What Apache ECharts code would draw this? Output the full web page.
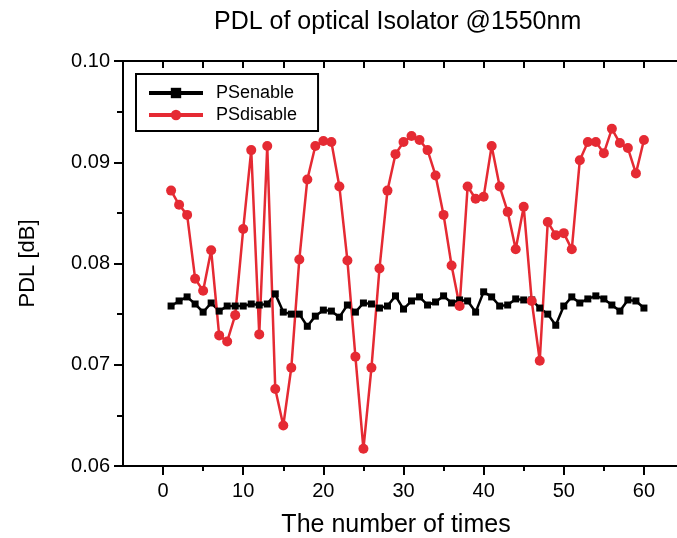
<!DOCTYPE html>
<html>
<head>
<meta charset="utf-8">
<script src="https://cdn.jsdelivr.net/npm/echarts@6/dist/echarts.min.js"></script>
<style>html,body{margin:0;padding:0;background:#fff;overflow:hidden;width:677px;height:538px}
#wrap{position:relative;width:677px;height:538px;overflow:hidden}
#c{position:absolute;left:0;top:0;width:690px;height:538px}</style>
</head>
<body>
<div id="wrap"><div id="c"></div></div>
<script>
const times = Array.from({length: 60}, (_, i) => i + 1);
const psEnable = [0.0758,0.0763,0.0767,0.0760,0.0752,0.0761,0.0753,0.0758,0.0758,0.0758,
  0.0760,0.0759,0.0760,0.0770,0.0752,0.0750,0.0750,0.0738,0.0748,0.0754,
  0.0753,0.0747,0.0759,0.0752,0.0761,0.0760,0.0756,0.0758,0.0768,0.0755,
  0.0763,0.0767,0.0759,0.0762,0.0768,0.0761,0.0764,0.0763,0.0752,0.0772,
  0.0767,0.0758,0.0759,0.0765,0.0764,0.0764,0.0756,0.0750,0.0739,0.0758,
  0.0767,0.0761,0.0765,0.0768,0.0765,0.0759,0.0753,0.0764,0.0763,0.0756];
const psDisable = [0.0872,0.0858,0.0848,0.0785,0.0773,0.0813,0.0729,0.0723,0.0749,0.0834,
  0.0912,0.0730,0.0916,0.0676,0.0640,0.0697,0.0804,0.0883,0.0916,0.0921,
  0.0920,0.0876,0.0803,0.0708,0.0617,0.0697,0.0795,0.0872,0.0908,0.0920,
  0.0926,0.0922,0.0912,0.0887,0.0848,0.0798,0.0758,0.0876,0.0864,0.0866,
  0.0916,0.0876,0.0851,0.0814,0.0856,0.0763,0.0704,0.0841,0.0828,0.0830,
  0.0814,0.0902,0.0920,0.0920,0.0909,0.0933,0.0919,0.0914,0.0889,0.0922];
const xMajor = [0,10,20,30,40,50,60];
const xMinor = [5,15,25,35,45,55];
const xTop = [0,5,10,15,20,25,30,35,40,45,50,55,60];

const FONT = '"Liberation Sans", Arial, Helvetica, sans-serif';
const red = '#e52a33';
const pair = (ys) => times.map((t, i) => [t, ys[i]]);

const chart = echarts.init(document.getElementById('c'), null, {renderer: 'canvas'});
chart.setOption({
  animation: false,
  backgroundColor: '#fff',
  title: {
    text: 'PDL of optical Isolator @1550nm',
    left: 209, top: 5,
    textStyle: {fontFamily: FONT, fontSize: 25, fontWeight: 'normal', color: '#000'}
  },
  legend: {
    orient: 'vertical', left: 136, top: 74,
    padding: [10, 21, 7, 11],
    borderColor: '#000', borderWidth: 2,
    itemWidth: 54, itemHeight: 13, itemGap: 4,
    lineStyle: {width: 4},
    textStyle: {fontFamily: FONT, fontSize: 18, color: '#000', padding: [0, 0, 0, 8]},
    data: ['PSenable', 'PSdisable']
  },
  grid: {left: 123, top: 61, right: 6, bottom: 72, outerBoundsMode: 'none', containLabel: false},
  xAxis: [
    {
      type: 'value', min: -5, max: 65, position: 'bottom',
      name: 'The number of times', nameLocation: 'middle', nameGap: 47,
      nameTextStyle: {fontFamily: FONT, fontSize: 25, color: '#000', padding: [0, 15, 0, 0]},
      axisLine: {show: true, onZero: false, lineStyle: {color: '#000', width: 2}},
      axisTick: {show: true, inside: false, length: 9, customValues: xMajor, lineStyle: {color: '#000', width: 2}},
      axisLabel: {show: true, margin: 15, customValues: xMajor, fontFamily: FONT, fontSize: 20, color: '#000'},
      splitLine: {show: false}
    },
    {
      type: 'value', min: -5, max: 65, position: 'bottom',
      axisLine: {show: false},
      axisTick: {show: true, inside: false, length: 5, customValues: xMinor, lineStyle: {color: '#000', width: 2}},
      axisLabel: {show: false},
      splitLine: {show: false}
    },
    {
      type: 'value', min: -5, max: 65, position: 'top',
      axisLine: {show: true, onZero: false, lineStyle: {color: '#000', width: 2}},
      axisTick: {show: true, inside: true, length: 7, customValues: xTop, lineStyle: {color: '#000', width: 2}},
      axisLabel: {show: false},
      splitLine: {show: false}
    }
  ],
  yAxis: [
    {
      type: 'value', min: 0.06, max: 0.10, interval: 0.01, position: 'left',
      name: 'PDL [dB]', nameLocation: 'middle', nameGap: 84,
      nameTextStyle: {fontFamily: FONT, fontSize: 22, color: '#000'},
      axisLine: {show: true, onZero: false, lineStyle: {color: '#000', width: 2}},
      axisTick: {show: true, inside: false, length: 9, lineStyle: {color: '#000', width: 2}},
      minorTick: {show: true, splitNumber: 2, length: 6, lineStyle: {color: '#000', width: 2}},
      axisLabel: {margin: 13, fontFamily: FONT, fontSize: 20, color: '#000', formatter: v => v.toFixed(2)},
      splitLine: {show: false}
    },
    {
      type: 'value', min: 0.06, max: 0.10, interval: 0.01, position: 'right',
      axisLine: {show: true, onZero: false, lineStyle: {color: '#000', width: 2}},
      axisTick: {show: true, inside: true, length: 7, lineStyle: {color: '#000', width: 2}},
      axisLabel: {show: false},
      splitLine: {show: false}
    }
  ],
  series: [
    {
      name: 'PSenable', type: 'line', xAxisIndex: 0, yAxisIndex: 0,
      data: pair(psEnable),
      symbol: 'rect', symbolSize: 7, showAllSymbol: true,
      lineStyle: {color: '#000', width: 2.5},
      itemStyle: {color: '#000'}
    },
    {
      name: 'PSdisable', type: 'line', xAxisIndex: 0, yAxisIndex: 0,
      data: pair(psDisable),
      symbol: 'circle', symbolSize: 10, showAllSymbol: true,
      lineStyle: {color: red, width: 2.5},
      itemStyle: {color: red}
    }
  ]
});
</script>
</body>
</html>
